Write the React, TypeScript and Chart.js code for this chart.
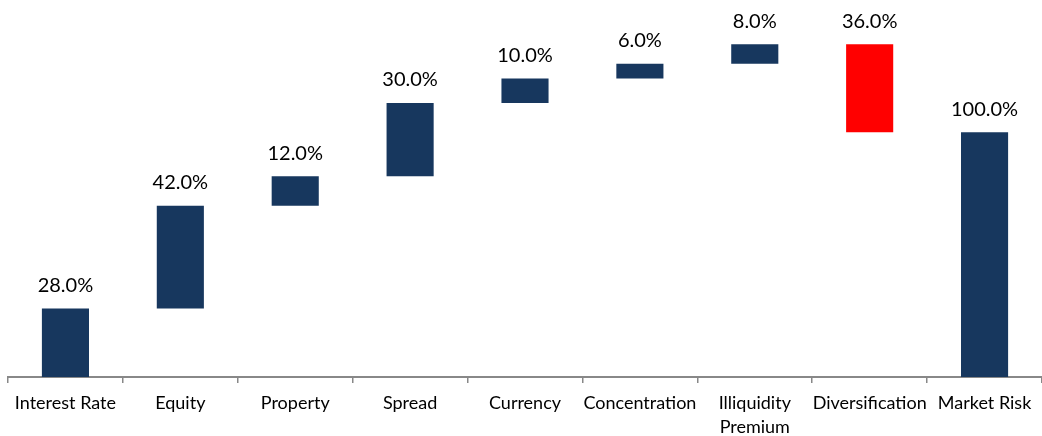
import React, { useEffect, useRef } from "react";
import { Chart, registerables } from "chart.js";

Chart.register(...registerables);

const categories: (string | string[])[] = [
  "Interest Rate",
  "Equity",
  "Property",
  "Spread",
  "Currency",
  "Concentration",
  ["Illiquidity", "Premium"],
  "Diversification",
  "Market Risk",
];
const barStarts = [0, 28, 70, 82, 112, 122, 128, 100, 0];
const barEnds = [28, 70, 82, 112, 122, 128, 136, 136, 100];
const valueLabels = ["28.0%", "42.0%", "12.0%", "30.0%", "10.0%", "6.0%", "8.0%", "36.0%", "100.0%"];
const barColors = ["#17375E", "#17375E", "#17375E", "#17375E", "#17375E", "#17375E", "#17375E", "#FF0000", "#17375E"];

const FONT = "Lato, 'Open Sans', sans-serif";

export default function App() {
  const ref = useRef<HTMLCanvasElement>(null);
  useEffect(() => {
    if (!ref.current) return;
    const labelPlugin = {
      id: "valueLabels",
      afterDatasetsDraw(chart: any) {
        const ctx = chart.ctx;
        const meta = chart.getDatasetMeta(0);
        ctx.save();
        ctx.font = `20px ${FONT}`;
        ctx.fillStyle = "#000";
        ctx.textAlign = "center";
        ctx.textBaseline = "bottom";
        meta.data.forEach((el: any, i: number) => {
          const top = Math.min(el.y, el.base);
          ctx.fillText(valueLabels[i], el.x, top - 13);
        });
        ctx.restore();
      },
    };
    const chart = new Chart(ref.current, {
      type: "bar",
      data: {
        labels: categories,
        datasets: [
          {
            data: barStarts.map((s, i) => [s, barEnds[i]]),
            backgroundColor: barColors,
            barPercentage: 0.41,
            categoryPercentage: 1,
          },
        ],
      },
      options: {
        animation: false,
        responsive: false,
        layout: { padding: { left: 8, top: 10, right: 0, bottom: 0 } },
        plugins: { legend: { display: false }, tooltip: { enabled: false } },
        scales: {
          x: {
            afterFit: (s: any) => {
              s.height = 59;
            },
            grid: {
              offset: true,
              drawOnChartArea: false,
              tickLength: 6,
              color: "#888888",
              lineWidth: 1.5,
            },
            border: { color: "#888888", width: 2 },
            ticks: {
              color: "#000",
              padding: 8,
              font: { family: FONT, size: 18, lineHeight: 1.35 },
              maxRotation: 0,
              autoSkip: false,
            },
          },
          y: {
            display: false,
            min: 0,
            max: 150,
          },
        },
      },
      plugins: [labelPlugin],
    });
    return () => chart.destroy();
  }, []);
  return (
    <div style={{ position: "absolute", left: 0, top: 0, width: 1042, height: 436, background: "#fff" }}>
      <canvas ref={ref} width={1042} height={436} />
    </div>
  );
}
